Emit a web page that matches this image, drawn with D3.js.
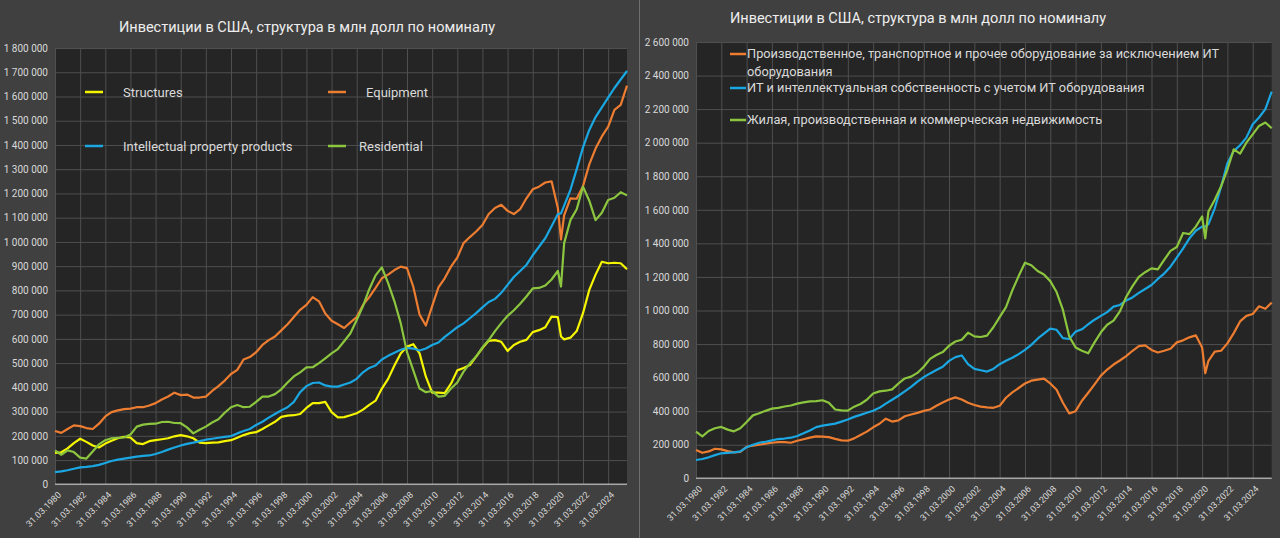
<!DOCTYPE html>
<html>
<head>
<meta charset="utf-8">
<script src="https://cdn.jsdelivr.net/npm/d3@7"></script>
<style>
  body { margin: 0; background: #404040; }
  svg text { font-family: Roboto, "Liberation Sans", sans-serif; }
</style>
</head>
<body>
<script>
// квартальные даты (полугодовой шаг + провал 2 кв. 2020), значения в млрд долл
const dates = [
  1980, 1980.5, 1981, 1981.5, 1982, 1982.5, 1983, 1983.5, 1984, 1984.5,
  1985, 1985.5, 1986, 1986.5, 1987, 1987.5, 1988, 1988.5, 1989, 1989.5,
  1990, 1990.5, 1991, 1991.5, 1992, 1992.5, 1993, 1993.5, 1994, 1994.5,
  1995, 1995.5, 1996, 1996.5, 1997, 1997.5, 1998, 1998.5, 1999, 1999.5,
  2000, 2000.5, 2001, 2001.5, 2002, 2002.5, 2003, 2003.5, 2004, 2004.5,
  2005, 2005.5, 2006, 2006.5, 2007, 2007.5, 2008, 2008.5, 2009, 2009.5,
  2010, 2010.5, 2011, 2011.5, 2012, 2012.5, 2013, 2013.5, 2014, 2014.5,
  2015, 2015.5, 2016, 2016.5, 2017, 2017.5, 2018, 2018.5, 2019, 2019.5,
  2020, 2020.25, 2020.5, 2021, 2021.5, 2022, 2022.5, 2023, 2023.5, 2024, 2024.5, 2025, 2025.5
];

// левый график
const structures = [
  130, 132, 148, 170, 188, 175, 160, 152, 168, 180,
  190, 196, 193, 170, 166, 178, 182, 186, 190, 198,
  203, 198, 190, 172, 170, 172, 173, 178, 182, 192,
  203, 211, 215, 228, 243, 258, 278, 283, 285, 290,
  315, 335, 335, 340, 298, 276, 277, 285, 293, 308,
  328, 345, 395, 435, 490, 540, 568, 578, 540, 444,
  378, 378, 376, 415, 470, 480, 492, 527, 562, 592,
  595, 588, 550, 575, 588, 596, 628, 636, 648, 692,
  690, 610, 598, 605, 632, 706, 802, 865, 918, 912, 914, 912, 887
];
const equipment = [
  220, 212, 228, 243, 240, 232, 228, 250, 280, 298,
  305, 310, 312, 318, 318, 325, 335, 350, 362, 378,
  368, 370, 358, 358, 362, 385, 405, 428, 455, 472,
  515, 525, 545, 575, 595, 610, 635, 660, 690, 720,
  740, 772, 755, 705, 675, 660, 645, 668, 690, 740,
  772, 810, 850, 865, 884, 898, 892, 815, 700, 655,
  735, 812, 850, 898, 935, 995, 1020, 1043, 1070, 1115,
  1140, 1153, 1128, 1115, 1135, 1180, 1217, 1228, 1245, 1250,
  1140, 1010, 1110, 1180, 1178, 1230, 1320, 1385, 1435, 1475, 1545, 1565, 1645
];
const ipp = [
  50, 53, 58, 64, 70, 72, 75, 80, 88, 96,
  102, 106, 110, 114, 117, 119, 125, 133, 143, 152,
  160, 167, 172, 178, 184, 188, 192, 196, 199, 210,
  220, 228, 245, 258, 275, 290, 305, 318, 340, 380,
  405, 418, 420, 408, 403, 403, 412, 420, 435, 462,
  480, 490, 515, 530, 543, 555, 563, 560, 552, 560,
  575, 585, 608, 628, 648, 664, 685, 706, 730, 752,
  765, 790, 823, 855, 880, 905, 945, 980, 1015, 1065,
  1115, 1118, 1150, 1215, 1300, 1390, 1462, 1515, 1555, 1595, 1635, 1670, 1705
];
const residential = [
  140, 122, 140, 133, 110, 106, 135, 165, 182, 190,
  192, 193, 205, 238, 246, 249, 250, 257, 258, 253,
  252, 235, 210, 225, 238, 255, 268, 295, 318, 327,
  318, 320, 340, 362, 362, 372, 392, 420, 445, 462,
  482, 483, 500, 520, 540, 558, 590, 623, 678, 735,
  805, 862, 895, 830, 755, 665, 545, 470, 395, 380,
  385, 362, 365, 395, 420, 465, 499, 527, 565, 595,
  632, 665, 695, 718, 745, 775, 808, 810, 820, 845,
  880, 816, 995, 1090, 1135, 1228, 1170, 1090, 1120, 1173, 1182, 1205, 1192
];

// правый график
const equipNoIt = [
  169, 152, 160, 176, 172, 162, 155, 157, 188, 194,
  200, 207, 212, 216, 216, 212, 224, 233, 242, 250,
  248, 245, 235, 226, 224, 238, 258, 278, 304, 325,
  355, 338, 345, 370, 380, 390, 402, 410, 432, 452,
  470, 482, 470, 450, 437, 427, 423, 420, 432, 480,
  512, 538, 565, 582, 588, 594, 565, 528, 450, 387,
  400, 462, 510, 560, 612, 648, 678, 702, 728, 760,
  788, 792, 765, 750, 760, 772, 810, 822, 840, 852,
  780, 626, 700, 755, 760, 804, 865, 935, 968, 979, 1025, 1010, 1047
];
const itIpp = [
  109, 115, 125, 138, 149, 152, 155, 160, 185, 200,
  212, 218, 226, 234, 237, 242, 252, 268, 285, 305,
  314, 320, 326, 338, 350, 366, 378, 391, 403, 420,
  445, 468, 492, 518, 545, 576, 603, 625, 645, 665,
  700, 722, 732, 680, 652, 644, 636, 652, 680, 700,
  718, 740, 765, 795, 832, 862, 892, 885, 835, 830,
  874, 888, 918, 945, 968, 990, 1023, 1033, 1060, 1078,
  1105, 1128, 1152, 1188, 1220, 1261, 1315, 1370, 1430, 1475,
  1500, 1500, 1515, 1609, 1738, 1877, 1950, 1985, 2030, 2110, 2150, 2200, 2304
];
const realEstate = [
  278, 250, 282, 298, 306, 290, 280, 298, 335, 375,
  388, 402, 415, 420, 428, 434, 445, 452, 458, 460,
  465, 450, 410, 405, 403, 427, 443, 468, 505, 518,
  522, 530, 565, 595, 606, 628, 665, 712, 735, 752,
  790, 815, 826, 868, 846, 842, 850, 900, 960, 1020,
  1120, 1205, 1285, 1270, 1235, 1215, 1175, 1110, 1003, 845,
  780, 760, 745, 810, 870, 915, 940, 995, 1080, 1145,
  1200, 1228, 1251, 1245, 1301, 1355, 1378, 1462, 1455, 1500,
  1560, 1430, 1590, 1660, 1740, 1840, 1960, 1935, 2000, 2050, 2100, 2120, 2086
];

const tickYears = [1980, 1982, 1984, 1986, 1988, 1990, 1992, 1994, 1996, 1998, 2000,
  2002, 2004, 2006, 2008, 2010, 2012, 2014, 2016, 2018, 2020, 2022, 2024];
const leftTicks = d3.range(0, 1801, 100);
const rightTicks = d3.range(0, 2601, 200);

const title = "Инвестиции в США, структура в млн долл по номиналу";

const width = 1280, height = 538;
const fmt = d3.formatLocale({ decimal: ",", thousands: " ", grouping: [3], currency: ["", ""] }).format(",d");

const svg = d3.select("body").append("svg")
  .attr("width", width)
  .attr("height", height);

svg.append("rect").attr("width", width).attr("height", height).attr("fill", "#404040");
svg.append("line")
  .attr("x1", 639.5).attr("x2", 639.5).attr("y1", 0).attr("y2", height)
  .attr("stroke", "#6e6e6e");

function panel(cfg) {
  const x = d3.scaleLinear().domain([1980, 2025.5]).range([cfg.left, cfg.right]);
  const y = d3.scaleLinear().domain([0, cfg.yMax]).range([cfg.bottom, cfg.top]);
  const g = svg.append("g");

  g.append("rect")
    .attr("x", cfg.left).attr("y", cfg.top)
    .attr("width", cfg.right - cfg.left).attr("height", cfg.bottom - cfg.top)
    .attr("fill", "#252525");

  // horizontal grid + y labels
  g.append("g")
    .attr("transform", "translate(" + cfg.left + ",0)")
    .call(d3.axisLeft(y).tickValues(cfg.ticks).tickSize(-(cfg.right - cfg.left)).tickPadding(7)
      .tickFormat(d => fmt(d * 1000)))
    .call(a => a.select(".domain").remove())
    .call(a => a.selectAll("line").attr("stroke", "#4f4f4f"))
    .call(a => a.selectAll("text").attr("fill", "#d9d9d9").attr("font-size", 10));

  // vertical grid + date labels
  g.append("g")
    .attr("transform", "translate(0," + cfg.bottom + ")")
    .call(d3.axisBottom(x).tickValues(tickYears).tickSize(-(cfg.bottom - cfg.top))
      .tickFormat(d => "31.03." + d))
    .call(a => a.select(".domain").remove())
    .call(a => a.selectAll("line").attr("stroke", "#4f4f4f"))
    .call(a => a.selectAll("text")
      .attr("fill", "#d9d9d9").attr("font-size", 9)
      .attr("y", 0).attr("dy", "0.35em")
      .attr("text-anchor", "end")
      .attr("transform", "translate(4,9) rotate(-45)"));

  g.append("line")
    .attr("x1", cfg.left).attr("x2", cfg.right)
    .attr("y1", cfg.bottom).attr("y2", cfg.bottom)
    .attr("stroke", "#a6a6a6").attr("stroke-width", 1.5);

  const line = d3.line()
    .x((d, i) => x(dates[i]))
    .y(d => y(d));

  cfg.series.forEach(s => {
    g.append("path")
      .attr("d", line(s.values))
      .attr("fill", "none")
      .attr("stroke", s.color)
      .attr("stroke-width", 2.2)
      .attr("stroke-linejoin", "round");
  });

  // legend
  cfg.series.forEach(s => {
    g.append("line")
      .attr("x1", s.lx).attr("x2", s.lx + cfg.mark)
      .attr("y1", s.ly).attr("y2", s.ly)
      .attr("stroke", s.color).attr("stroke-width", 2.5);
    const t = g.append("text")
      .attr("x", s.tx).attr("y", s.ly)
      .attr("fill", "#d9d9d9")
      .attr("font-size", cfg.legendSize);
    s.label.forEach((l, k) => {
      t.append("tspan").attr("x", s.tx).attr("dy", k ? "1.38em" : "0.35em").text(l);
    });
  });

  svg.append("text")
    .attr("x", cfg.titleX).attr("y", cfg.titleY)
    .attr("text-anchor", "middle")
    .attr("fill", "#eeeeee")
    .attr("font-size", 14.5)
    .text(title);
}

panel({
  left: 55, right: 627, top: 48, bottom: 484.3, yMax: 1800, ticks: leftTicks,
  titleX: 307, titleY: 32, mark: 18, legendSize: 13,
  series: [
    { label: ["Structures"], values: structures, color: "#f5f500", lx: 85, ly: 92, tx: 123 },
    { label: ["Equipment"], values: equipment, color: "#ed7d31", lx: 328, ly: 92, tx: 366 },
    { label: ["Intellectual property products"], values: ipp, color: "#1aa7e2", lx: 85, ly: 146, tx: 123 },
    { label: ["Residential"], values: residential, color: "#8cc63f", lx: 328, ly: 146, tx: 359 }
  ]
});

panel({
  left: 696, right: 1271.7, top: 42, bottom: 478.3, yMax: 2600, ticks: rightTicks,
  titleX: 918, titleY: 23, mark: 16, legendSize: 12.8,
  series: [
    { label: ["Производственное, транспортное и прочее оборудование за исключением ИТ", "оборудования"],
      values: equipNoIt, color: "#ed7d31", lx: 730, ly: 54, tx: 747 },
    { label: ["ИТ и интеллектуальная собственность с учетом ИТ оборудования"],
      values: itIpp, color: "#1aa7e2", lx: 730, ly: 88, tx: 747 },
    { label: ["Жилая, производственная и коммерческая недвижимость"],
      values: realEstate, color: "#8cc63f", lx: 730, ly: 120, tx: 747 }
  ]
});
</script>
</body>
</html>
